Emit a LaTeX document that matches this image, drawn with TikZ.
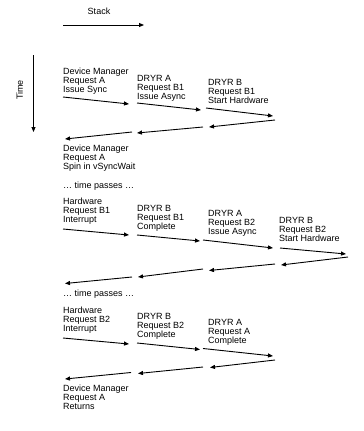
\documentclass[tikz,border=0pt]{standalone}
\usepackage{fontspec}
\setmainfont{Liberation Sans}
\usetikzlibrary{arrows.meta}
\begin{document}
\begin{tikzpicture}[x=1pt,y=-1pt,
  lbl/.style={anchor=base west,inner sep=0pt,align=left,font=\fontsize{9pt}{9pt}\selectfont},
  lbl3/.style={lbl,yshift=-18pt},
  flow/.style={line width=0.9pt,-{Triangle[length=5pt,width=4pt]}}]
\useasboundingbox (0,0) rectangle (364,431);
% axes
\node[lbl,anchor=base] (stack) at (99,14) {Stack};
\coordinate (sx0) at (63,25); \coordinate (sx1) at (144,25);
\draw[flow] (sx0) -- (sx1);
\node[lbl,anchor=base,rotate=90] (time) at (23,90) {Time};
\coordinate (ty0) at (33.5,55); \coordinate (ty1) at (33.5,132);
\draw[flow] (ty0) -- (ty1);
% row 1
\node[lbl3] (r1a) at (63,74) {Device Manager\\Request A\\Issue Sync};
\node[lbl3] (r1b) at (137,81) {DRYR A\\Request B1\\Issue Async};
\node[lbl3] (r1c) at (208,85) {DRYR B\\Request B1\\Start Hardware};
\coordinate (f11s) at (63,97);  \coordinate (f11e) at (129,104);
\coordinate (f12s) at (137,103); \coordinate (f12e) at (201,110);
\coordinate (f13s) at (206,108); \coordinate (f13e) at (273,116);
\coordinate (b11s) at (275,120); \coordinate (b11e) at (209,127);
\coordinate (b12s) at (203,127); \coordinate (b12e) at (137,133);
\coordinate (b13s) at (132,132); \coordinate (b13e) at (65,139);
\foreach \a in {f11,f12,f13,b11,b12,b13} \draw[flow] (\a s) -- (\a e);
\node[lbl3] (r1d) at (63,151) {Device Manager\\Request A\\Spin in vSyncWait};
\node[lbl] (tp1) at (63,188.5) {\dots\ time passes \dots};
% row 2
\node[lbl3] (r2a) at (63,204) {Hardware\\Request B1\\Interrupt};
\node[lbl3] (r2b) at (137,211.5) {DRYR B\\Request B1\\Complete};
\node[lbl3] (r2c) at (208,216) {DRYR A\\Request B2\\Issue Async};
\node[lbl3] (r2d) at (279,223) {DRYR B\\Request B2\\Start Hardware};
\coordinate (f21s) at (63,229);  \coordinate (f21e) at (129,235);
\coordinate (f22s) at (137,235); \coordinate (f22e) at (200,241);
\coordinate (f23s) at (203,240); \coordinate (f23e) at (273,248);
\coordinate (f24s) at (280,248); \coordinate (f24e) at (346,254);
\coordinate (b21s) at (348,257); \coordinate (b21e) at (281,265);
\coordinate (b22s) at (275,264); \coordinate (b22e) at (209,270.5);
\coordinate (b23s) at (203,269); \coordinate (b23e) at (138,277);
\coordinate (b24s) at (132,277); \coordinate (b24e) at (65,283.5);
\foreach \a in {f21,f22,f23,f24,b21,b22,b23,b24} \draw[flow] (\a s) -- (\a e);
\node[lbl] (tp2) at (63,296.5) {\dots\ time passes \dots};
% row 3
\node[lbl3] (r3a) at (63,313.5) {Hardware\\Request B2\\Interrupt};
\node[lbl3] (r3b) at (137,319.5) {DRYR B\\Request B2\\Complete};
\node[lbl3] (r3c) at (208,325) {DRYR A\\Request A\\Complete};
\coordinate (f31s) at (63,338);  \coordinate (f31e) at (129,344);
\coordinate (f32s) at (137,343); \coordinate (f32e) at (200,349.5);
\coordinate (f33s) at (203,348.5); \coordinate (f33e) at (273,356);
\coordinate (b31s) at (275,360); \coordinate (b31e) at (210,367.5);
\coordinate (b32s) at (203,367); \coordinate (b32e) at (138,373.5);
\coordinate (b33s) at (131,372.5); \coordinate (b33e) at (65,379);
\foreach \a in {f31,f32,f33,b31,b32,b33} \draw[flow] (\a s) -- (\a e);
\node[lbl3] (r3d) at (63,391.5) {Device Manager\\Request A\\Returns};
\end{tikzpicture}
\end{document}
